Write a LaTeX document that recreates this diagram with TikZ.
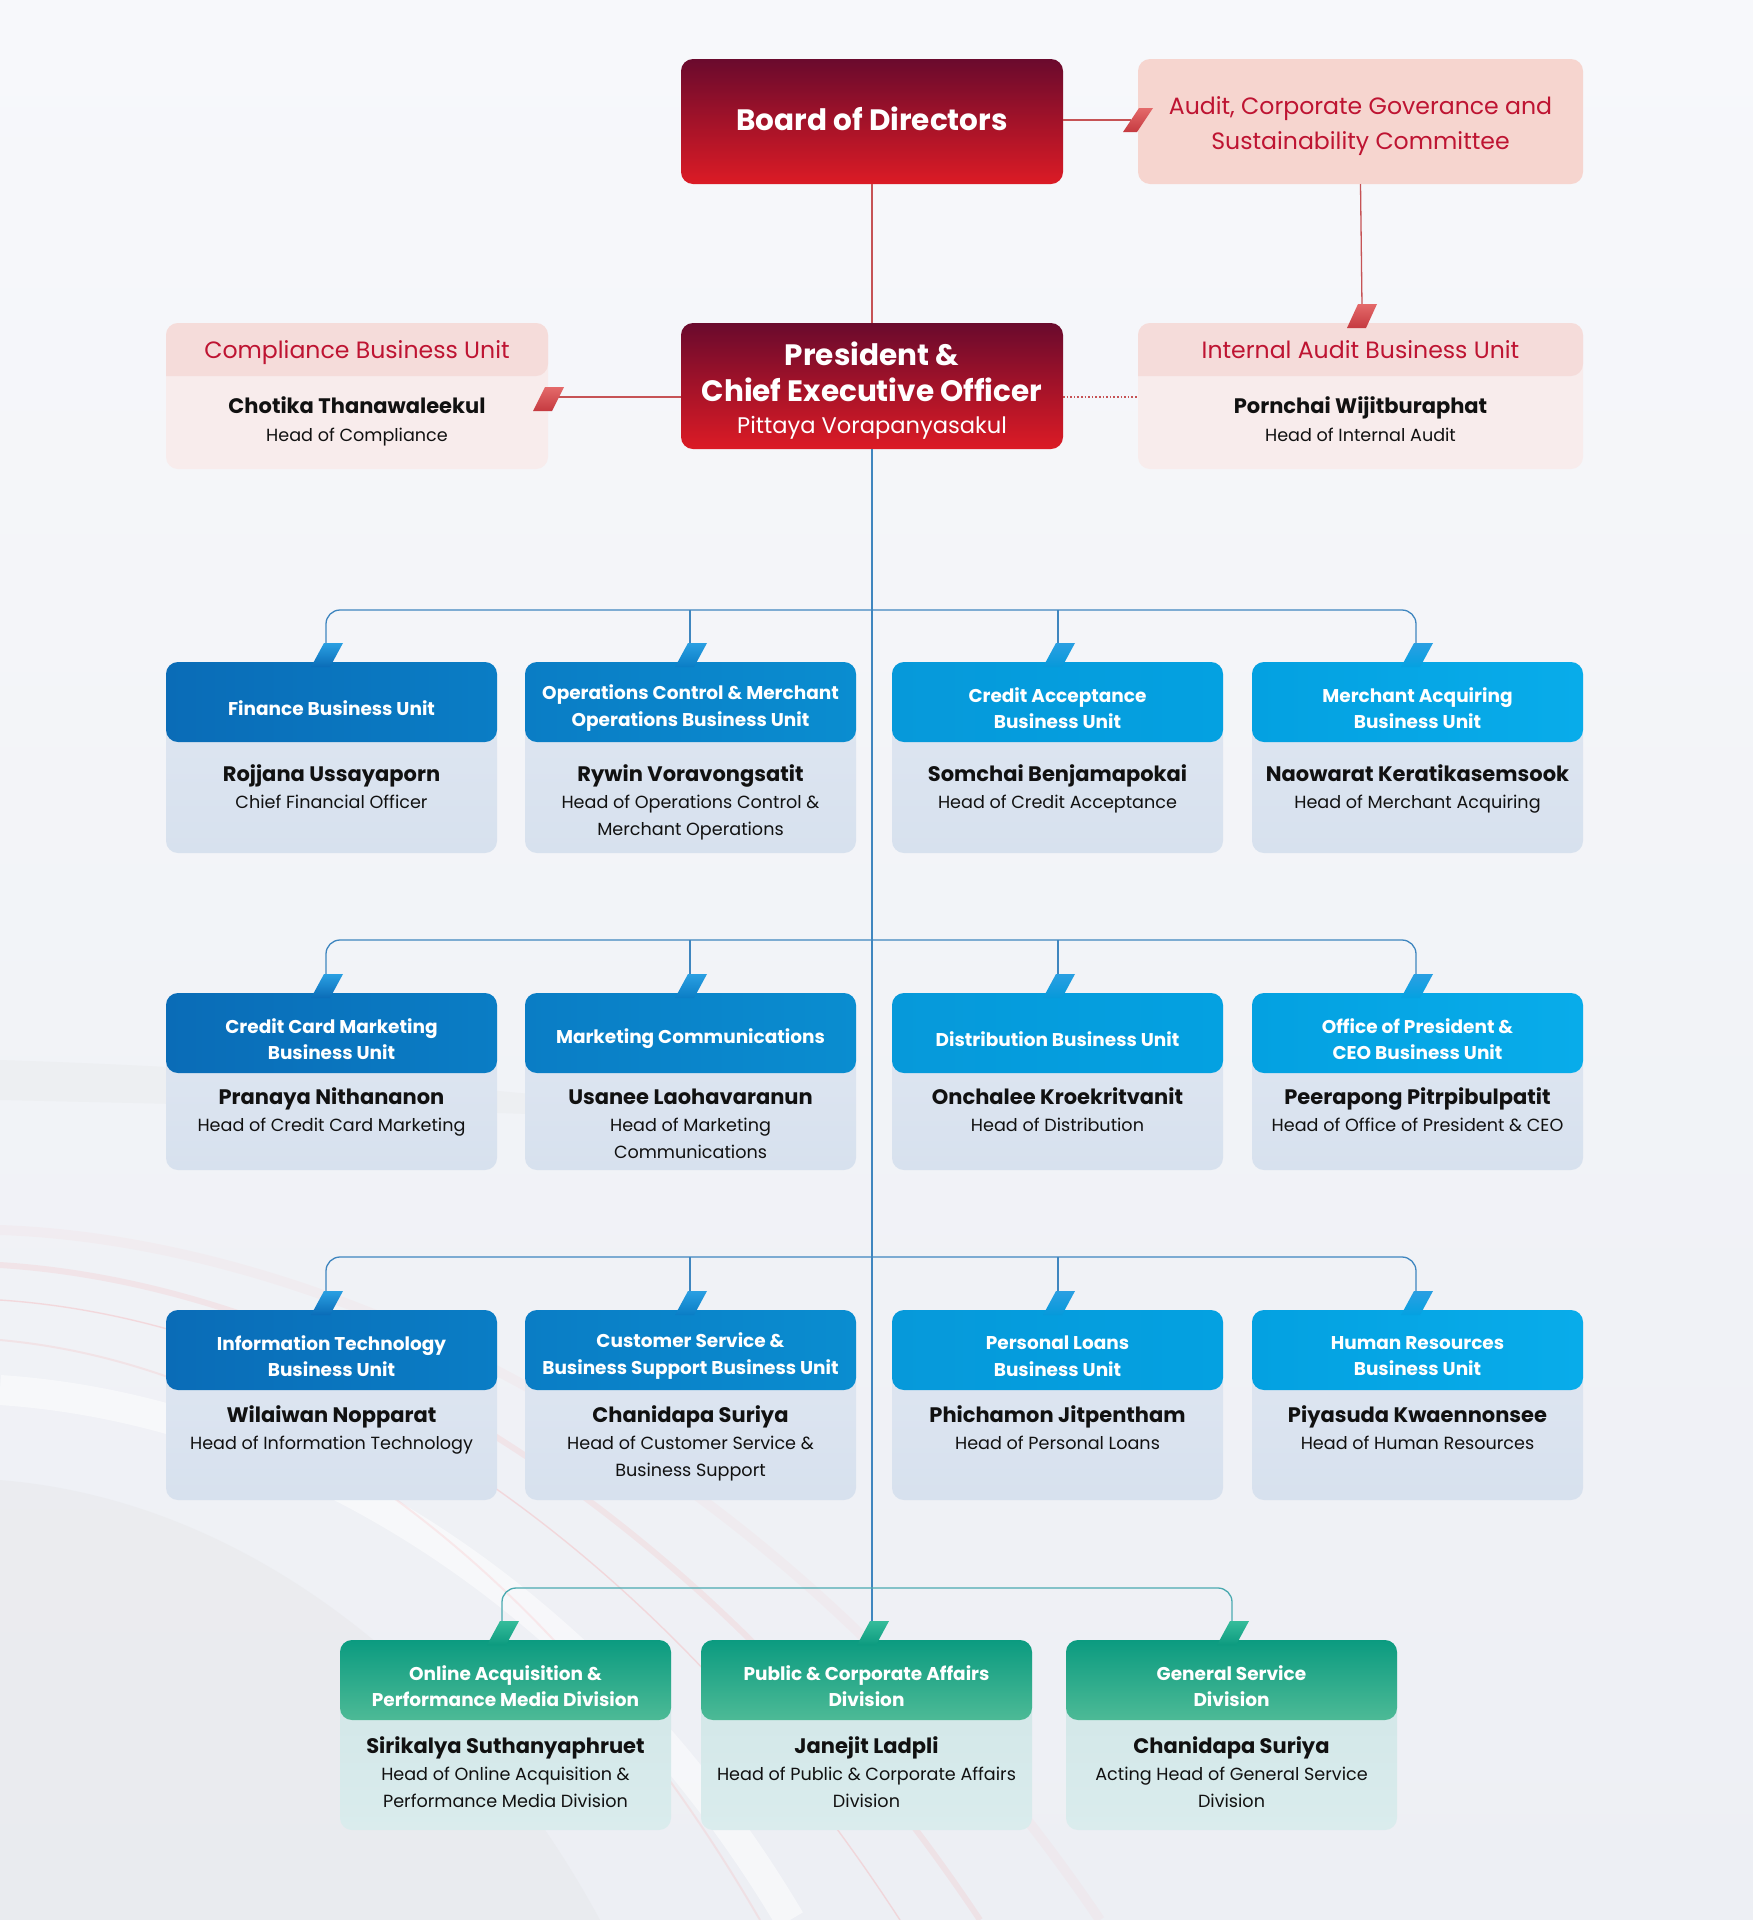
\documentclass[tikz,border=0pt]{standalone}
\usepackage{fontspec}
\setmainfont{Poppins}
\usetikzlibrary{calc}
\definecolor{bgtop}{HTML}{F7F8FB}
\definecolor{bgbot}{HTML}{EDEFF4}
\definecolor{maroon}{HTML}{6A0A2D}
\definecolor{bred}{HTML}{DC1B25}
\definecolor{pinkbox}{HTML}{F6D5CF}
\definecolor{pinkband}{HTML}{F5DCDA}
\definecolor{pinkbody}{HTML}{F8ECEC}
\definecolor{redtext}{HTML}{BE1432}
\definecolor{redline}{HTML}{C65355}
\definecolor{tabredA}{HTML}{E46A6A}
\definecolor{tabredB}{HTML}{C53A40}
\definecolor{lineblue}{HTML}{3F86BF}
\definecolor{linegreen}{HTML}{4BAAB0}
\definecolor{bodyA}{HTML}{E0E7F2}
\definecolor{bodyB}{HTML}{D7E1EE}
\definecolor{gbodyA}{HTML}{CFE5E6}
\definecolor{gbodyB}{HTML}{DAECED}
\definecolor{gA}{HTML}{0B9B80}
\definecolor{gB}{HTML}{02AD8A}
\definecolor{gC}{HTML}{4DBA96}
\definecolor{ink}{HTML}{111111}
\definecolor{bA}{HTML}{0A6CB7}
\definecolor{bB}{HTML}{0A7DC5}
\definecolor{bC}{HTML}{0A8DD0}
\definecolor{bD}{HTML}{0699DA}
\definecolor{bE}{HTML}{04A1E1}
\definecolor{bF}{HTML}{08ACEA}
\definecolor{tabbA}{HTML}{2A9FE2}
\definecolor{tabgA}{HTML}{35BC9A}
\definecolor{tabgB}{HTML}{0C9A7F}

\newcommand\up[1]{\rule{0pt}{#1pt}}
\newcommand\nameoff{112}
% blue unit box: #1 id, #2 left, #3 top, #4 height, #5 header left colour, #6 header right colour, #7 header, #8 person, #9 role
\newcommand\unitbox[9]{%
  \node[ubody, minimum width=331pt, minimum height=#4pt, anchor=north west] (#1) at (#2,#3) {};
  \shade[left color=#5, right color=#6, rounded corners=12pt] (#2,#3) rectangle ++(331,80);
  \node[hdr] (#1-h) at ({#2+165.5},{#3+46}) {#7};
  \node[person, anchor=base] (#1-n) at ({#2+165.5},{#3+\nameoff}) {#8};
  \node[role, anchor=north] (#1-r) at ({#2+165.5},{#3+\nameoff+27-15}) {\up{15}#9};
}
% green division box: #1 id, #2 left, #3 top, #4 header, #5 person, #6 role
\newcommand\divbox[6]{%
  \node[gbody, minimum width=331pt, minimum height=190pt, anchor=north west] (#1) at (#2,#3) {};
  \shade[top color=gA, middle color=gB, bottom color=gC, rounded corners=12pt] (#2,#3) rectangle ++(331,80);
  \node[hdr] (#1-h) at ({#2+165.5},{#3+46}) {#4};
  \node[person, anchor=base] (#1-n) at ({#2+165.5},{#3+\nameoff}) {#5};
  \node[role, anchor=north] (#1-r) at ({#2+165.5},{#3+\nameoff+27-15}) {\up{15}#6};
}
% slanted tab on top of a box: #1 line x, #2 box top, #3 top colour, #4 bottom colour
\newcommand\toptab[4]{%
  \shade[top color=#3, bottom color=#4] ({#1-2},{#2-19}) -- ({#1+17},{#2-19}) -- ({#1+4},{#2+5}) -- ({#1-15},{#2+5}) -- cycle;
}

\begin{document}
\begin{tikzpicture}[x=1pt,y=-1pt,
  every node/.style={inner sep=0pt, outer sep=0pt},
  hdr/.style={text=white, align=center, font=\fontsize{18.5}{26.5}\selectfont\bfseries},
  person/.style={text=ink, font=\fontsize{21}{24}\selectfont\bfseries},
  role/.style={text=ink, align=center, font=\fontsize{17.6}{26.5}\selectfont},
  ubody/.style={rounded corners=12pt, top color=bodyA, bottom color=bodyB},
  gbody/.style={rounded corners=12pt, top color=gbodyA, bottom color=gbodyB},
  redbox/.style={rounded corners=12pt, top color=maroon, bottom color=bred, text=white},
  rline/.style={draw=redline, line width=1.3pt},
  bline/.style={draw=lineblue, line width=1.3pt},
  gline/.style={draw=linegreen, line width=1.3pt},
  ptitle/.style={text=redtext, font=\fontsize{23.6}{35}\selectfont, align=center}
]
\useasboundingbox (0,0) rectangle (1753,1920);
% background
\shade[top color=bgtop, bottom color=bgbot] (0,0) rectangle (1753,1920);
\fill[gray!30, opacity=0.18] (0,1480) .. controls (250,1500) and (470,1680) .. (600,1920) -- (0,1920) -- cycle;
\fill[gray!25, opacity=0.2] (0,1060) .. controls (250,1068) and (450,1085) .. (640,1105) -- (640,1118) .. controls (430,1110) and (230,1105) .. (0,1100) -- cycle;
\draw[white, line width=30pt, opacity=0.5] (0,1390) .. controls (300,1410) and (600,1600) .. (790,1920);
\draw[red!70, line width=6pt, opacity=0.08] (0,1265) .. controls (320,1285) and (700,1500) .. (980,1920);
\draw[red!60, line width=1.4pt, opacity=0.18] (0,1300) .. controls (300,1320) and (640,1520) .. (900,1920);
\draw[red!50, line width=2pt, opacity=0.13] (0,1340) .. controls (280,1365) and (560,1575) .. (760,1920);
\draw[red!40, line width=10pt, opacity=0.06] (0,1230) .. controls (300,1240) and (760,1420) .. (1100,1920);

% ---------- top level ----------
\node[redbox, minimum width=382pt, minimum height=125pt] (bod) at (872,121.5) {};
\node[text=white, anchor=base, font=\fontsize{29.5}{32}\selectfont\bfseries] (bod-t) at (872,130) {Board of Directors};
\node[rounded corners=12pt, fill=pinkbox, minimum width=445pt, minimum height=125pt] (aud) at (1360.5,121.5) {};
\node[ptitle, anchor=north] (aud-t) at (1360.5,95) {\up{19}Audit, Corporate Goverance and\\Sustainability Committee};

\node[redbox, minimum width=382pt, minimum height=126pt] (ceo) at (872,386) {};
\node[text=white, align=center, anchor=north, font=\fontsize{29.5}{35.5}\selectfont\bfseries] (ceo-t) at (872,342) {\up{23}President \&\\Chief Executive Officer};
\node[text=white, anchor=base, font=\fontsize{22.6}{26}\selectfont] (ceo-n) at (872,433) {Pittaya Vorapanyasakul};

\node[rounded corners=12pt, fill=pinkbody, minimum width=382pt, minimum height=146pt] (comp) at (357,396) {};
\fill[pinkband] (166,376) [rounded corners=12pt] |- (357,323) -| (548,376) [sharp corners] -- cycle;
\node[ptitle, anchor=base] (comp-t) at (357,358) {Compliance Business Unit};
\node[person, anchor=base] (comp-n) at (357,413.5) {Chotika Thanawaleekul};
\node[role, anchor=base] (comp-r) at (357,441) {Head of Compliance};

\node[rounded corners=12pt, fill=pinkbody, minimum width=445pt, minimum height=146pt] (ia) at (1360.5,396) {};
\fill[pinkband] (1138,376) [rounded corners=12pt] |- (1360,323) -| (1583,376) [sharp corners] -- cycle;
\node[ptitle, anchor=base] (ia-t) at (1360.5,358) {Internal Audit Business Unit};
\node[person, anchor=base] (ia-n) at (1360.5,413.5) {Pornchai Wijitburaphat};
\node[role, anchor=base] (ia-r) at (1360.5,441) {Head of Internal Audit};

% red connectors
\coordinate (audtab) at (1131,120);
\coordinate (iatab) at (1362,306);
\coordinate (comptab) at (556,397);
\coordinate (dotline) at (0,397);
\draw[rline] (bod.south) -- (ceo.north);
\draw[rline] (bod.east |- audtab) -- (audtab);
\draw[rline] (aud.south) -- (iatab);
\draw[rline] (comptab) -- (comptab -| ceo.west);
\draw[redline, line width=1.6pt, dash pattern=on 1.6pt off 2pt] (ceo.east |- dotline) -- (ia.west |- dotline);
\shade[top color=tabredA, bottom color=tabredB] (1139,108) -- (1153,108) -- (1137,132) -- (1123,132) -- cycle;
\shade[top color=tabredA, bottom color=tabredB] (1358,304) -- (1377,304) -- (1366,328) -- (1347,328) -- cycle;
\shade[top color=tabredA, bottom color=tabredB] (545,387) -- (564,387) -- (552,411) -- (533,411) -- cycle;

% ---------- blue connectors ----------
\coordinate (bus1) at (872,610);
\coordinate (bus2) at (872,940);
\coordinate (bus3) at (872,1257);
\coordinate (bus4) at (872,1588);
\foreach \r/\t in {1/662,2/993,3/1310}{
  \coordinate (t\r a) at (326,\t-19);
  \coordinate (t\r b) at (690,\t-19);
  \coordinate (t\r c) at (1058,\t-19);
  \coordinate (t\r d) at (1416,\t-19);
}
\coordinate (t4a) at (502,1621);
\coordinate (t4b) at (872,1621);
\coordinate (t4c) at (1232,1621);

\draw[bline] (ceo.south) -- (t4b);
\foreach \r in {1,2,3}{
  \draw[bline, rounded corners=14pt] (t\r a) |- (bus\r) -| (t\r d);
  \draw[bline] (t\r b) -- (t\r b |- bus\r);
  \draw[bline] (t\r c) -- (t\r c |- bus\r);
}
\draw[gline, rounded corners=14pt] (t4a) |- (bus4) -| (t4c);

% ---------- row 1 ----------
\renewcommand\nameoff{119.5}
\unitbox{fin}{166}{662}{191}{bA}{bB}{Finance Business Unit}{Rojjana Ussayaporn}{Chief Financial Officer}
\unitbox{ops}{525}{662}{191}{bB}{bC}{Operations Control \& Merchant\\Operations Business Unit}{Rywin Voravongsatit}{Head of Operations Control \&\\Merchant Operations}
\unitbox{cra}{892}{662}{191}{bD}{bE}{Credit Acceptance\\Business Unit}{Somchai Benjamapokai}{Head of Credit Acceptance}
\unitbox{mac}{1252}{662}{191}{bE}{bF}{Merchant Acquiring\\Business Unit}{Naowarat Keratikasemsook}{Head of Merchant Acquiring}

% ---------- row 2 ----------
\renewcommand\nameoff{111.5}
\unitbox{ccm}{166}{993}{177}{bA}{bB}{Credit Card Marketing\\Business Unit}{Pranaya Nithananon}{Head of Credit Card Marketing}
\unitbox{mkc}{525}{993}{177}{bB}{bC}{Marketing Communications}{Usanee Laohavaranun}{Head of Marketing\\Communications}
\unitbox{dst}{892}{993}{177}{bD}{bE}{Distribution Business Unit}{Onchalee Kroekritvanit}{Head of Distribution}
\unitbox{opc}{1252}{993}{177}{bE}{bF}{Office of President \&\\CEO Business Unit}{Peerapong Pitrpibulpatit}{Head of Office of President \& CEO}

% ---------- row 3 ----------
\renewcommand\nameoff{112.5}
\unitbox{itb}{166}{1310}{190}{bA}{bB}{Information Technology\\Business Unit}{Wilaiwan Nopparat}{Head of Information Technology}
\unitbox{csb}{525}{1310}{190}{bB}{bC}{Customer Service \&\\Business Support Business Unit}{Chanidapa Suriya}{Head of Customer Service \&\\Business Support}
\unitbox{plb}{892}{1310}{190}{bD}{bE}{Personal Loans\\Business Unit}{Phichamon Jitpentham}{Head of Personal Loans}
\unitbox{hrb}{1252}{1310}{190}{bE}{bF}{Human Resources\\Business Unit}{Piyasuda Kwaennonsee}{Head of Human Resources}

% ---------- row 4 ----------
\renewcommand\nameoff{113.5}
\divbox{oad}{340}{1640}{Online Acquisition \&\\Performance Media Division}{Sirikalya Suthanyaphruet}{Head of Online Acquisition \&\\Performance Media Division}
\divbox{pca}{701}{1640}{Public \& Corporate Affairs\\Division}{Janejit Ladpli}{Head of Public \& Corporate Affairs\\Division}
\divbox{gsd}{1066}{1640}{General Service\\Division}{Chanidapa Suriya}{Acting Head of General Service\\Division}

% tabs
\foreach \t in {662,993,1310}{
  \toptab{326}{\t}{tabbA}{bA}
  \toptab{690}{\t}{tabbA}{bB}
  \toptab{1058}{\t}{tabbA}{bD}
  \toptab{1416}{\t}{tabbA}{bE}
}
\toptab{502}{1640}{tabgA}{tabgB}
\toptab{872}{1640}{tabgA}{tabgB}
\toptab{1232}{1640}{tabgA}{tabgB}
\end{tikzpicture}
\end{document}
